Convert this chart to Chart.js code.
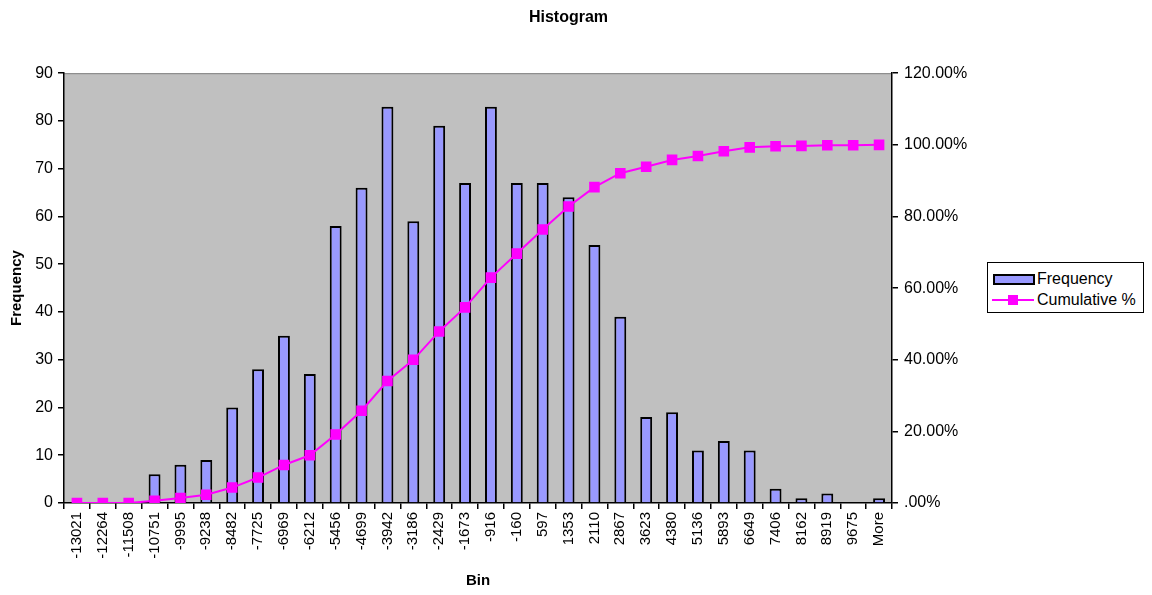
<!DOCTYPE html>
<html>
<head>
<meta charset="utf-8">
<script src="https://cdn.jsdelivr.net/npm/chart.js@4"></script>
<style>
    html, body { margin: 0; padding: 0; background: #fff; }
    #wrap { position: relative; width: 1152px; height: 595px; }
    #legend {
        position: absolute; left: 987px; top: 262px; width: 155px; height: 49px;
        border: 1px solid #000; background: #fff;
        font-family: "Liberation Sans", Arial, sans-serif; font-size: 16px; color: #000;
    }
    .item { position: absolute; left: 4px; height: 20px; line-height: 20px; }
    .sw { position: absolute; left: 1px; top: 5px; width: 38px; height: 7px; background: #9999FF; border: 2px solid #000; }
    .ln { position: absolute; left: 0; top: 9px; width: 42px; height: 2px; background: #FF00FF; }
    .mk { position: absolute; left: 16px; top: 5px; width: 10px; height: 10px; background: #FF00FF; }
    .txt { position: absolute; left: 45px; white-space: nowrap; }
</style>
</head>
<body>
<div id="wrap">
    <canvas id="histChart" width="1152" height="595"></canvas>
    <div id="legend">
        <div class="item" style="top:6px"><div class="sw"></div><span class="txt">Frequency</span></div>
        <div class="item" style="top:27px"><div class="ln"></div><div class="mk"></div><span class="txt">Cumulative %</span></div>
    </div>
</div>
<script>
// Bin labels as shown on the x axis
const bins = ['-13021', '-12264', '-11508', '-10751', '-9995', '-9238', '-8482', '-7725',
    '-6969', '-6212', '-5456', '-4699', '-3942', '-3186', '-2429', '-1673', '-916', '-160',
    '597', '1353', '2110', '2867', '3623', '4380', '5136', '5893', '6649', '7406', '8162',
    '8919', '9675', 'More'];

// Frequency per bin (bars)
const frequency = [0, 0, 0, 6, 8, 9, 20, 28, 35, 27, 58, 66, 83, 59, 79, 67, 83, 67,
    67, 64, 54, 39, 18, 19, 11, 13, 11, 3, 1, 2, 0, 1];

// Cumulative % (line)
const cumulative = [0, 0, 0, 0.60, 1.40, 2.30, 4.31, 7.11, 10.62, 13.33, 19.14, 25.75,
    34.07, 39.98, 47.90, 54.61, 62.93, 69.64, 76.35, 82.77, 88.18, 92.08, 93.89, 95.79,
    96.89, 98.20, 99.30, 99.60, 99.70, 99.90, 99.90, 100];

const FONT = '"Liberation Sans", Arial, sans-serif';

// Grey plot area like the spreadsheet chart
const plotArea = {
    id: 'plotArea',
    beforeDraw(chart) {
        const { ctx, chartArea: a } = chart;
        ctx.save();
        ctx.fillStyle = '#C0C0C0';
        ctx.fillRect(a.left, a.top, a.right - a.left, a.bottom - a.top);
        ctx.strokeStyle = '#808080';
        ctx.lineWidth = 1;
        ctx.beginPath();
        ctx.moveTo(a.left, a.top + 0.5);
        ctx.lineTo(a.right, a.top + 0.5);
        ctx.stroke();
        ctx.restore();
    }
};

const ctx = document.getElementById('histChart').getContext('2d');
const histChart = new Chart(ctx, {
    data: {
        labels: bins,
        datasets: [{
            type: 'line',
            label: 'Cumulative %',
            data: cumulative,
            yAxisID: 'y1',
            borderColor: '#FF00FF',
            backgroundColor: '#FF00FF',
            borderWidth: 2,
            pointStyle: 'rect',
            pointRadius: 7.5,
            pointBorderWidth: 0,
            tension: 0,
            order: 0
        }, {
            type: 'bar',
            label: 'Frequency',
            data: frequency,
            yAxisID: 'y',
            backgroundColor: '#9999FF',
            borderColor: '#000000',
            borderWidth: 2,
            categoryPercentage: 1,
            barPercentage: 0.46,
            order: 1
        }]
    },
    options: {
        responsive: false,
        animation: false,
        layout: { padding: { right: 15, left: 0, top: 0, bottom: 0 } },
        plugins: {
            legend: { display: false },
            tooltip: { enabled: false },
            title: {
                display: true,
                text: 'Histogram',
                color: '#000',
                font: { family: FONT, size: 16, weight: 'bold', lineHeight: 1.2 },
                padding: { top: 8, bottom: 46 }
            }
        },
        scales: {
            x: {
                offset: true,
                grid: { offset: true, drawOnChartArea: false, tickLength: 6, color: '#000', lineWidth: 1.5 },
                border: { color: '#000', width: 1.5 },
                ticks: {
                    autoSkip: false, minRotation: 90, maxRotation: 90, padding: 3,
                    color: '#000', font: { family: FONT, size: 15 }
                },
                title: {
                    display: true, text: 'Bin', color: '#000',
                    font: { family: FONT, size: 15, weight: 'bold' },
                    padding: { top: 4, bottom: 5 }
                },
                afterFit: (scale) => { scale.height = 92; }
            },
            y: {
                position: 'left',
                min: 0, max: 90,
                grid: { drawOnChartArea: false, tickLength: 6, color: '#000', lineWidth: 1.5 },
                border: { color: '#000', width: 1.5 },
                ticks: { stepSize: 10, padding: 5, color: '#000', font: { family: FONT, size: 16 } },
                title: {
                    display: true, text: 'Frequency', color: '#000',
                    font: { family: FONT, size: 15, weight: 'bold' },
                    padding: { top: 8, bottom: 4 }
                },
                afterFit: (scale) => { scale.width = 64; }
            },
            y1: {
                position: 'right',
                min: 0, max: 120,
                grid: { drawOnChartArea: false, tickLength: 6, color: '#000', lineWidth: 1.5 },
                border: { color: '#000', width: 1.5 },
                ticks: {
                    stepSize: 20, padding: 6, color: '#000', font: { family: FONT, size: 16 },
                    // Excel style: ".00%" at zero
                    callback: (v) => v === 0 ? '.00%' : v.toFixed(2) + '%'
                },
                afterFit: (scale) => { scale.width = 245; }
            }
        }
    },
    plugins: [plotArea]
});
</script>
</body>
</html>
